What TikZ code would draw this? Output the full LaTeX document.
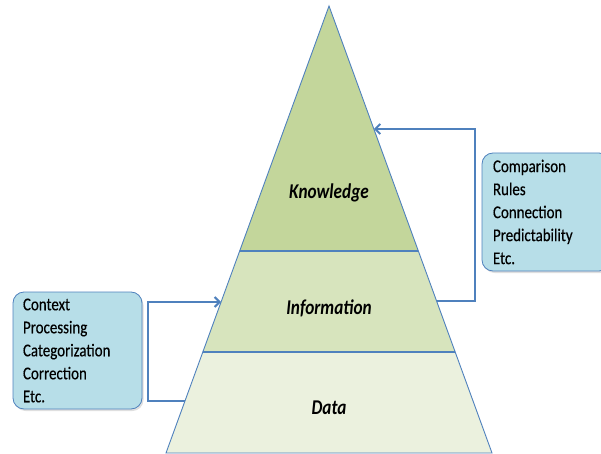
\documentclass[tikz,border=0pt]{standalone}
\usepackage{fontspec}
\setmainfont{Carlito}
\newfontfamily\boxfont{Carlito}[FakeStretch=0.83,FakeBold=0.4]
\newfontfamily\lblfont{Carlito}[FakeStretch=0.82,BoldItalicFont={Carlito Bold Italic}]
\usetikzlibrary{arrows.meta,calc,shadows}
\definecolor{knowc}{RGB}{195,214,155}
\definecolor{infoc}{RGB}{215,228,189}
\definecolor{datac}{RGB}{235,241,222}
\definecolor{edgec}{RGB}{79,129,189}
\definecolor{boxc}{RGB}{183,222,232}
\tikzset{
  layer/.style={draw=edgec, line width=0.9pt, line join=miter},
  lbl/.style={font=\fontsize{21}{24}\selectfont\lblfont\bfseries\itshape, inner sep=0pt},
  listbox/.style={draw=edgec, line width=0.8pt, fill=boxc, rounded corners=11pt,
    align=left, font=\fontsize{18}{23}\selectfont\boxfont, inner ysep=0pt,
    drop shadow={opacity=0.25, shadow xshift=1.5pt, shadow yshift=-2pt}},
  flow/.style={draw=edgec, line width=2.7pt, line join=miter},
  tip/.style={-{Straight Barb[length=5pt,width=10pt,line width=2pt]}}
}
\begin{document}
\begin{tikzpicture}[x=1pt,y=-1pt]
\useasboundingbox (0,0) rectangle (601,454);
\clip (0,0) rectangle (601,454);
% pyramid corners
\coordinate (apex) at (329,6);
\coordinate (bl) at (166,453);
\coordinate (br) at (492,453);
\coordinate (kl) at ($(apex)!0.5481!(bl)$);
\coordinate (kr) at ($(apex)!0.5481!(br)$);
\coordinate (il) at ($(apex)!0.7740!(bl)$);
\coordinate (ir) at ($(apex)!0.7740!(br)$);
% layers
\path[layer, fill=datac] (il) -- (ir) -- (br) -- (bl) -- cycle;
\path[layer, fill=infoc] (kl) -- (kr) -- (ir) -- (il) -- cycle;
\path[layer, fill=knowc] (apex) -- (kr) -- (kl) -- cycle;
\draw[edgec, line width=1.4pt] (kl) -- (kr) (il) -- (ir);
% labels
\node[lbl] (know) at (329,193) {Knowledge};
\node[lbl] (info) at (329,308) {Information};
\node[lbl] (data) at (329,408) {Data};
% boxes
\node[listbox, minimum width=129pt, minimum height=117pt, text width=109pt] (lbox) at (77.5,350.5)
  {Context\\Processing\\Categorization\\Correction\\Etc.};
\node[listbox, minimum width=128pt, minimum height=118pt, text width=106pt] (rbox) at (546,212)
  {Comparison\\Rules\\Connection\\Predictability\\Etc.};
% connector ends on the pyramid edges
\coordinate (dataL) at ($(apex)!0.8837!(bl)$);
\coordinate (infoL) at ($(apex)!0.6622!(bl)$);
\coordinate (infoR) at ($(apex)!0.6600!(br)$);
\coordinate (knowR) at ($(apex)!0.2752!(br)$);
\coordinate (lbend) at (148,0);
\coordinate (rbend) at (475,0);
\draw[flow, tip] (dataL) -- (dataL -| lbend) -- (infoL -| lbend) -- (infoL);
\draw[flow, tip] (infoR) -- (infoR -| rbend) -- (knowR -| rbend) -- (knowR);
\end{tikzpicture}
\end{document}
